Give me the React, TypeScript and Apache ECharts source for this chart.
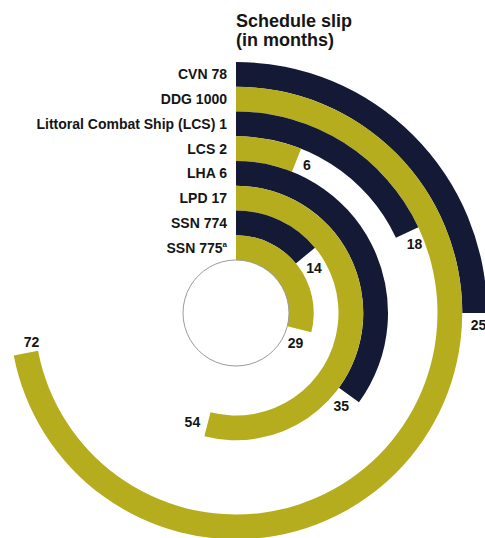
import React, { useEffect, useRef } from "react";
import * as echarts from "echarts";

const categories = [
  "CVN 78",
  "DDG 1000",
  "Littoral Combat Ship (LCS) 1",
  "LCS 2",
  "LHA 6",
  "LPD 17",
  "SSN 774",
  "SSN 775a",
];
const footnoted = "SSN 775a";
const slipMonths = [25, 72, 18, 6, 35, 54, 14, 29];
const fullCircleMonths = 100;

// label nudges (styling only), per ring, in px
const labelNudges: [number, number][] = [
  [-4, 6],
  [-1, -5],
  [-3, 6],
  [1, 3],
  [-12, 6],
  [-17, -1],
  [-3, 8],
  [-10, 8],
];

const NAVY = "#141a35";
const YELLOW = "#b5ad1d";
const FONT = "Liberation Sans, Arial, sans-serif";

export default function App() {
  const ref = useRef<HTMLDivElement>(null);
  useEffect(() => {
    document.body.style.margin = "0";
    const chart = echarts.init(ref.current!, undefined, { renderer: "svg" });
    chart.setOption({
      animation: false,
      backgroundColor: "#ffffff",
      title: {
        text: "Schedule slip\n(in months)",
        left: 231,
        top: 6,
        textStyle: {
          fontFamily: FONT,
          fontWeight: "bold",
          fontSize: 18,
          lineHeight: 19,
          color: "#151515",
        },
      },
      polar: { center: [236, 313], radius: [53, 251] },
      angleAxis: {
        type: "value",
        min: 0,
        max: fullCircleMonths,
        startAngle: 90,
        clockwise: true,
        show: false,
      },
      radiusAxis: {
        type: "category",
        data: categories,
        inverse: true,
        axisLine: { show: false },
        axisTick: { show: false },
        splitLine: { show: false },
        axisLabel: {
          show: true,
          interval: 0,
          margin: 9,
          fontFamily: FONT,
          fontWeight: "bold",
          fontSize: 14,
          color: "#151515",
          formatter: (v: string) =>
            v === footnoted ? "SSN 775{sup|a}" : v,
          rich: {
            sup: {
              fontFamily: FONT,
              fontWeight: "bold",
              fontSize: 8,
              color: "#151515",
              verticalAlign: "top",
              padding: [0, 0, 6, 0],
            },
          },
        },
      },
      graphic: [
        {
          type: "circle",
          shape: { cx: 236, cy: 313, r: 53 },
          style: { fill: "none", stroke: "#9a9a9a", lineWidth: 1 },
          z: 10,
        },
      ],
      series: [
        {
          type: "bar",
          coordinateSystem: "polar",
          barCategoryGap: "0%",
          data: slipMonths.map((v, i) => ({
            value: v,
            itemStyle: { color: i % 2 === 0 ? NAVY : YELLOW },
            label: { offset: labelNudges[i] },
          })),
          label: {
            show: true,
            position: "end",
            rotate: 0,
            distance: 6,
            formatter: "{c}",
            fontFamily: FONT,
            fontWeight: "bold",
            fontSize: 14,
            color: "#151515",
          },
        },
      ],
    });
    return () => chart.dispose();
  }, []);
  return (
    <div
      ref={ref}
      style={{ position: "fixed", left: 0, top: 0, width: 485, height: 538 }}
    />
  );
}
